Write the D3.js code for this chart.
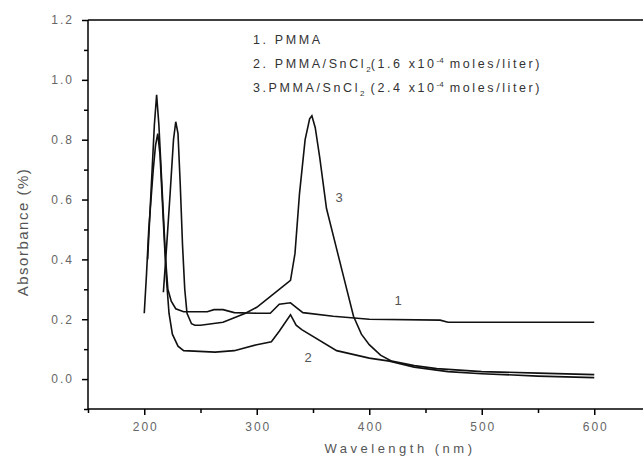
<!DOCTYPE html>
<html lang="en">
<head>
<meta charset="utf-8">
<title>Absorbance spectra</title>
<script src="https://d3js.org/d3.v7.min.js"></script>
<style>
  body { margin: 0; background: #fff; }
  text { font-family: "Liberation Sans", Arial, sans-serif; }
</style>
</head>
<body>
<div id="my_dataviz"></div>
<script>
// data: wavelength (nm) / absorbance
var wl1 = [203, 205, 207, 209, 211, 213, 215, 217, 219, 221, 224, 228, 235, 256, 262, 270, 280, 300, 312, 320, 330, 335, 341, 368, 400, 463, 470, 600];
var abs1 = [0.40, 0.55, 0.70, 0.85, 0.95, 0.85, 0.70, 0.55, 0.40, 0.30, 0.26, 0.235, 0.225, 0.225, 0.232, 0.232, 0.222, 0.22, 0.22, 0.25, 0.255, 0.24, 0.222, 0.21, 0.20, 0.197, 0.19, 0.19];

var wl2 = [200, 202, 204, 206, 208, 210, 212, 214, 216, 218, 220, 222, 225, 230, 235, 263, 280, 300, 313, 320, 330, 335, 340, 371, 400, 418, 440, 470, 500, 550, 600];
var abs2 = [0.22, 0.35, 0.50, 0.60, 0.70, 0.78, 0.82, 0.75, 0.60, 0.45, 0.32, 0.22, 0.15, 0.11, 0.095, 0.09, 0.095, 0.115, 0.125, 0.16, 0.215, 0.18, 0.165, 0.095, 0.07, 0.06, 0.04, 0.025, 0.018, 0.01, 0.005];

var wl3 = [217, 220, 223, 226, 228, 230, 232, 234, 236, 238, 242, 245, 250, 260, 270, 280, 290, 300, 310, 320, 330, 334, 338, 343, 347, 349, 352, 356, 362, 370, 376, 386, 393, 400, 410, 420, 440, 460, 500, 550, 600];
var abs3 = [0.29, 0.45, 0.62, 0.80, 0.86, 0.82, 0.65, 0.45, 0.30, 0.22, 0.185, 0.18, 0.18, 0.185, 0.19, 0.205, 0.22, 0.24, 0.27, 0.30, 0.33, 0.42, 0.62, 0.80, 0.87, 0.88, 0.84, 0.74, 0.57, 0.45, 0.36, 0.21, 0.15, 0.115, 0.08, 0.06, 0.045, 0.035, 0.025, 0.02, 0.015];

var xTicks = [200, 300, 400, 500, 600];
var xMinor = [150, 250, 350, 450, 550, 650];
var yTicks = [0.0, 0.2, 0.4, 0.6, 0.8, 1.0, 1.2];
var yMinor = [-0.1, 0.1, 0.3, 0.5, 0.7, 0.9, 1.1];

var legendLines = [
  {num: "1. PMMA"},
  {num: "2. PMMA/SnCl", sub: "2", rest: "(1.6 x10", sup: "-4", end: " moles/liter)"},
  {num: "3.PMMA/SnCl", sub: "2", rest: " (2.4 x10", sup: "-4", end: " moles/liter)"}
];

var W = 643, H = 457;
var svg = d3.select("#my_dataviz").append("svg")
  .attr("width", W).attr("height", H);

var x = d3.scaleLinear().domain([150, 650]).range([88, 650.5]);
var y = d3.scaleLinear().domain([-0.1, 1.2]).range([409, 20]);

// axes
var gx = svg.append("g").attr("transform", "translate(0," + y(-0.1) + ")")
  .call(d3.axisBottom(x).tickValues(xTicks).tickSize(6).tickFormat(d3.format("d")));
svg.append("g").attr("transform", "translate(0," + y(-0.1) + ")")
  .call(d3.axisBottom(x).tickValues(xMinor).tickSize(4).tickFormat(""));
var gy = svg.append("g").attr("transform", "translate(" + x(150) + ",0)")
  .call(d3.axisLeft(y).tickValues(yTicks).tickSize(6).tickFormat(d3.format(".1f")));
svg.append("g").attr("transform", "translate(" + x(150) + ",0)")
  .call(d3.axisLeft(y).tickValues(yMinor).tickSize(4).tickFormat(""));

svg.selectAll(".domain").attr("d", null);
svg.selectAll(".tick line").attr("stroke", "#000").attr("stroke-width", 1.5);
svg.selectAll(".tick text").attr("fill", "#666").style("font-size", "12px").style("letter-spacing", "2px");
gx.selectAll(".tick text").attr("dy", "1.1em").attr("dx", "1px");
gy.selectAll(".tick text").attr("x", -14).attr("dx", "0px");

// frame lines: left, bottom, top
svg.append("line").attr("x1", x(150)).attr("x2", x(150)).attr("y1", y(1.2)).attr("y2", y(-0.1))
  .attr("stroke", "#000").attr("stroke-width", 1.5);
svg.append("line").attr("x1", x(150)).attr("x2", W).attr("y1", y(-0.1)).attr("y2", y(-0.1))
  .attr("stroke", "#000").attr("stroke-width", 1.5);
svg.append("line").attr("x1", x(150)).attr("x2", W).attr("y1", y(1.2)).attr("y2", y(1.2))
  .attr("stroke", "#000").attr("stroke-width", 1.5);

// curves
var line = d3.line().x(function(d) { return x(d[0]); }).y(function(d) { return y(d[1]); });
[[wl1, abs1], [wl2, abs2], [wl3, abs3]].forEach(function(s) {
  svg.append("path")
    .datum(d3.zip(s[0], s[1]))
    .attr("fill", "none")
    .attr("stroke", "#111")
    .attr("stroke-width", 1.6)
    .attr("d", line);
});

// curve numbers
var tags = [["1", 398, 305], ["2", 308, 362], ["3", 339, 202]];
tags.forEach(function(t) {
  svg.append("text").attr("x", t[1]).attr("y", t[2]).attr("text-anchor", "middle")
    .attr("fill", "#555").style("font-size", "13px").text(t[0]);
});

// legend
var ly = [44, 68, 92];
legendLines.forEach(function(l, i) {
  var t = svg.append("text").attr("x", 253).attr("y", ly[i])
    .attr("fill", "#333").style("font-size", "12.5px").style("letter-spacing", "2.6px");
  t.append("tspan").text(l.num);
  if (l.sub) {
    t.append("tspan").attr("dy", 4).style("font-size", "8px").style("letter-spacing", "0px").text(l.sub);
    t.append("tspan").attr("dy", -4).text(l.rest);
    t.append("tspan").attr("dy", -5).style("font-size", "8px").style("letter-spacing", "0px").text(l.sup);
    t.append("tspan").attr("dy", 5).text(l.end);
  }
});

// axis titles
svg.append("text").attr("x", 400).attr("y", 453).attr("text-anchor", "middle")
  .attr("fill", "#555").style("font-size", "13px").style("letter-spacing", "3.5px")
  .text("Wavelength (nm)");
svg.append("text").attr("transform", "translate(28,232) rotate(-90)").attr("text-anchor", "middle")
  .attr("fill", "#555").style("font-size", "15px").style("letter-spacing", "1.5px")
  .text("Absorbance (%)");
</script>
</body>
</html>
